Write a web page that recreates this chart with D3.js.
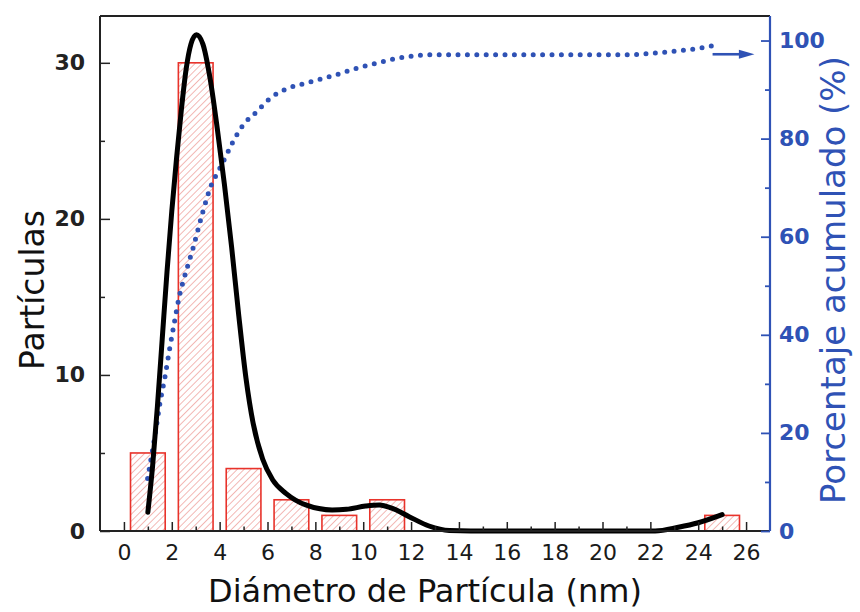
<!DOCTYPE html>
<html>
<head>
<meta charset="utf-8">
<script src="https://cdn.jsdelivr.net/npm/d3@7"></script>
<style>
  html, body { margin: 0; padding: 0; background: #fff; }
  svg { display: block; }
  text { font-family: "DejaVu Sans", sans-serif; }
</style>
</head>
<body>
<script>
// Histogram of particle diameters (nm)
const binCenters = [1, 3, 5, 7, 9, 11, 25];
const binCounts  = [5, 30, 4, 2, 1, 2, 1];
const binWidth = 1.45;

// Fitted distribution curve (diameter, particles)
const fitX = [1.0, 1.2, 1.4, 1.6, 1.8, 2.0, 2.2, 2.4, 2.6, 2.8, 3.03, 3.3, 3.6, 3.9, 4.2, 4.5, 4.8, 5.1, 5.4, 5.8, 6.22, 6.78, 7.6, 8.7, 9.3, 10.1, 10.67, 11.22, 11.92, 12.75, 13.6, 14.5, 22.2, 23.17, 24.0, 25.0];
const fitY = [1.2, 4.2, 8.0, 12.3, 16.6, 20.5, 23.9, 27.0, 29.6, 31.2, 31.8, 31.2, 29.0, 25.8, 22.2, 18.2, 13.8, 9.8, 6.9, 4.6, 3.27, 2.4, 1.67, 1.35, 1.39, 1.6, 1.67, 1.45, 0.92, 0.32, 0.03, 0, 0, 0.24, 0.53, 1.05];

// Cumulative percentage (diameter, %)
const cumX = [0.99, 1.33, 1.5, 1.71, 1.92, 2.13, 2.33, 2.47, 2.89, 3.3, 3.65, 3.93, 4.21, 4.55, 4.97, 5.53, 6.08, 6.78, 7.6, 8.72, 9.83, 10.67, 11.36, 12.2, 13.0, 21.2, 22.05, 23.2, 24.0, 24.8];
const cumY = [10.7, 20.5, 25.9, 31.3, 37.4, 43.1, 48.2, 50.8, 57.7, 65.1, 70.5, 73.2, 75.9, 79.3, 82.7, 85.4, 88.1, 90.1, 91.3, 92.8, 94.5, 95.5, 96.3, 96.9, 97.1, 97.1, 97.4, 97.9, 98.4, 99.1];

// Axis ticks
const xMajorTicks = [0, 2, 4, 6, 8, 10, 12, 14, 16, 18, 20, 22, 24, 26];
const xMinorTicks = [1, 3, 5, 7, 9, 11, 13, 15, 17, 19, 21, 23, 25];
const yLeftMajor = [0, 10, 20, 30];
const yLeftMinor = [5, 15, 25];
const yRightMajor = [0, 20, 40, 60, 80, 100];
const yRightMinor = [10, 30, 50, 70, 90];

const W = 860, H = 612;
const L = 100, R = 770, T = 16, B = 531;
const blue = "#2f52b5";
const red = "#e8332b";

const svg = d3.select("body").append("svg").attr("width", W).attr("height", H);

const x = d3.scaleLinear().domain([-1, 27]).range([L, R]);
const yL = d3.scaleLinear().domain([0, 33]).range([B, T]);
const yR = d3.scaleLinear().domain([0, 105]).range([B, T]);

// Diagonal hatch fill for the bars
const defs = svg.append("defs");
const pat = defs.append("pattern")
  .attr("id", "hatch").attr("patternUnits", "userSpaceOnUse")
  .attr("width", 4.8).attr("height", 4.8)
  .attr("patternTransform", "rotate(45)");
pat.append("rect").attr("width", 4.8).attr("height", 4.8).attr("fill", "#fff");
pat.append("line").attr("x1", 0).attr("y1", 0).attr("x2", 0).attr("y2", 4.8)
  .attr("stroke", "#eb8a86").attr("stroke-width", 1.2);

// Bars
svg.append("g").selectAll("rect")
  .data(binCenters.map((c, i) => ({ c, v: binCounts[i] })))
  .join("rect")
  .attr("x", d => x(d.c - binWidth / 2))
  .attr("width", d => x(d.c + binWidth / 2) - x(d.c - binWidth / 2))
  .attr("y", d => yL(d.v))
  .attr("height", d => yL(0) - yL(d.v))
  .attr("fill", "url(#hatch)")
  .attr("stroke", red)
  .attr("stroke-width", 1.6);

// Cumulative dotted curve
const cumLine = d3.line().x(d => x(d[0])).y(d => yR(d[1])).curve(d3.curveMonotoneX);
svg.append("path")
  .datum(cumX.map((v, i) => [v, cumY[i]]))
  .attr("d", cumLine)
  .attr("fill", "none")
  .attr("stroke", blue)
  .attr("stroke-width", 5)
  .attr("stroke-linecap", "round")
  .attr("stroke-dasharray", "0 9.4");

// Fitted curve
const fitLine = d3.line().x(d => x(d[0])).y(d => yL(d[1])).curve(d3.curveMonotoneX);
svg.append("path")
  .datum(fitX.map((v, i) => [v, fitY[i]]))
  .attr("d", fitLine)
  .attr("fill", "none")
  .attr("stroke", "#000")
  .attr("stroke-width", 5)
  .attr("stroke-linecap", "round")
  .attr("stroke-linejoin", "round");

// Top frame line
svg.append("line").attr("x1", L).attr("x2", R).attr("y1", T).attr("y2", T)
  .attr("stroke", "#222").attr("stroke-width", 1.8);

// Bottom axis
const xAxis = svg.append("g").attr("transform", `translate(0,${B})`);
xAxis.call(d3.axisBottom(x).tickValues(xMajorTicks).tickSize(-9).tickPadding(22).tickFormat(d3.format("d")));
xAxis.append("g").call(d3.axisBottom(x).tickValues(xMinorTicks).tickSize(-4.5).tickFormat(""));
xAxis.selectAll(".domain").remove();
xAxis.append("line").attr("x1", L).attr("x2", R).attr("stroke", "#222").attr("stroke-width", 2);
xAxis.selectAll(".tick line").attr("stroke", "#222").attr("stroke-width", 1.5);
xAxis.selectAll(".tick text").attr("font-size", 22).attr("fill", "#1a1a1a").attr("dy", "0.3em")
  .attr("font-family", "DejaVu Sans");

// Left axis
const yAxisL = svg.append("g").attr("transform", `translate(${L},0)`);
yAxisL.call(d3.axisLeft(yL).tickValues(yLeftMajor).tickSize(-10).tickPadding(15));
yAxisL.append("g").call(d3.axisLeft(yL).tickValues(yLeftMinor).tickSize(-5).tickFormat(""));
yAxisL.selectAll(".domain").remove();
yAxisL.append("line").attr("y1", T).attr("y2", B).attr("stroke", "#222").attr("stroke-width", 2);
yAxisL.selectAll(".tick line").attr("stroke", "#222").attr("stroke-width", 1.5);
yAxisL.selectAll(".tick text").attr("font-size", 22).attr("font-weight", "bold").attr("fill", "#222")
  .attr("font-family", "DejaVu Sans Condensed");

// Right axis
const yAxisR = svg.append("g").attr("transform", `translate(${R},0)`);
yAxisR.call(d3.axisRight(yR).tickValues(yRightMajor).tickSize(-9).tickPadding(9));
yAxisR.append("g").call(d3.axisRight(yR).tickValues(yRightMinor).tickSize(-5).tickFormat(""));
yAxisR.selectAll(".domain").remove();
yAxisR.append("line").attr("y1", T).attr("y2", B).attr("stroke", blue).attr("stroke-width", 2.2);
yAxisR.selectAll(".tick line").attr("stroke", blue).attr("stroke-width", 1.8);
yAxisR.selectAll(".tick text").attr("font-size", 22).attr("font-weight", "bold").attr("fill", blue)
  .attr("font-family", "DejaVu Sans Condensed");

// Arrow pointing to the right-hand axis
const arrowY = yR(97.2);
svg.append("line")
  .attr("x1", x(24.6)).attr("x2", x(25.9)).attr("y1", arrowY).attr("y2", arrowY)
  .attr("stroke", blue).attr("stroke-width", 2.6);
svg.append("path")
  .attr("d", `M${x(25.7)},${arrowY - 4.5} L${x(26.35)},${arrowY} L${x(25.7)},${arrowY + 4.5} Z`)
  .attr("fill", blue);

// Axis titles
svg.append("text")
  .attr("x", 425).attr("y", 602)
  .attr("text-anchor", "middle").attr("font-size", 32).attr("fill", "#111")
  .text("Diámetro de Partícula (nm)");

svg.append("text")
  .attr("transform", "translate(44,290) rotate(-90)")
  .attr("text-anchor", "middle").attr("font-size", 33).attr("fill", "#111")
  .text("Partículas");

svg.append("text")
  .attr("transform", "translate(845,280) rotate(-90)")
  .attr("text-anchor", "middle").attr("font-size", 34).attr("fill", blue)
  .text("Porcentaje acumulado (%)");
</script>
</body>
</html>
